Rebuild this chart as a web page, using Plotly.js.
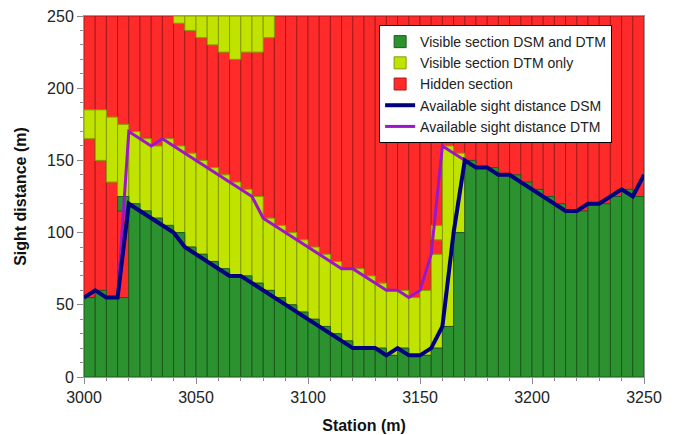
<!DOCTYPE html>
<html>
<head>
<meta charset="utf-8">
<script src="https://cdn.plot.ly/plotly-3.0.1.min.js"></script>
<style>html,body{margin:0;padding:0;background:#fff;}#chart{width:676px;height:435px;}</style>
</head>
<body>
<div id="chart"></div>
<script>
// Stations (m) where sight distances were evaluated
const station = [3000,3005,3010,3015,3020,3025,3030,3035,3040,3045,3050,3055,3060,3065,3070,3075,3080,3085,3090,3095,
                 3100,3105,3110,3115,3120,3125,3130,3135,3140,3145,3150,3155,3160,3165,3170,3175,3180,3185,3190,3195,
                 3200,3205,3210,3215,3220,3225,3230,3235,3240,3245,3250];
// Available sight distance lines (m)
const dsmDistance = [55,60,55,55,120,115,110,105,100,90,85,80,75,70,70,65,60,55,50,45,
                     40,35,30,25,20,20,20,15,20,15,15,20,35,100,150,145,145,140,140,135,
                     130,125,120,115,115,120,120,125,130,125,140];
const dtmDistance = [55,60,55,55,170,165,160,165,160,155,150,145,140,135,130,125,110,105,100,95,
                     90,85,80,75,75,70,65,60,60,55,60,85,160,155,150,145,145,140,140,135,
                     130,125,120,115,115,120,120,125,130,125,140];
// Column sections, one per 5 m section starting at each station (3000 ... 3245)
const hiddenTop = [250,250,250,250,250,250,250,250,250,250,250,250,250,250,250,250,250,250,250,250,
                   250,250,250,250,250,250,250,250,250,250,250,250,250,250,250,250,250,250,250,250,
                   250,250,250,250,250,250,250,250,250,250];
const visibleBothTop = [55,60,55,55,120,115,110,105,100,90,85,80,75,70,70,65,60,55,50,45,
                        40,35,30,25,20,20,20,15,20,15,15,20,35,100,150,145,145,140,140,135,
                        130,125,120,115,115,120,120,125,130,125];
const visibleBothExtraLow  = [null,null,null,115,null,null,null,null,null,null,null,null,null,null,null,null,null,null,null,null,
                             null,null,null,null,null,null,null,null,null,null,null,null,null,null,null,null,null,null,null,null,
                             null,null,null,null,null,null,null,null,null,null];
const visibleBothExtraHigh = [null,null,null,125,null,null,null,null,null,null,null,null,null,null,null,null,null,null,null,null,
                             null,null,null,null,null,null,null,null,null,null,null,null,null,null,null,null,null,null,null,null,
                             null,null,null,null,null,null,null,null,null,null];
const dtmOnlyLow  = [165,150,135,125,120,115,110,105,100,90,85,80,75,70,70,65,60,55,50,45,
                     40,35,30,25,20,20,20,15,20,15,15,20,35,100,null,null,null,null,null,null,
                     null,null,null,null,null,null,null,null,null,null];
const dtmOnlyHigh = [185,185,180,175,170,165,160,165,160,155,150,145,140,135,130,125,110,105,100,95,
                     90,85,80,75,75,70,65,60,60,55,60,85,160,155,null,null,null,null,null,null,
                     null,null,null,null,null,null,null,null,null,null];
const dtmOnlyExtraLow  = [null,null,null,null,null,null,null,null,245,240,235,230,225,220,225,225,235,null,null,null,
                          null,null,null,null,null,null,null,null,null,null,null,95,null,null,null,null,null,null,null,null,
                          null,null,null,null,null,null,null,null,null,null];
const dtmOnlyExtraHigh = [null,null,null,null,null,null,null,null,250,250,250,250,250,250,250,250,250,null,null,null,
                          null,null,null,null,null,null,null,null,null,null,null,105,null,null,null,null,null,null,null,null,
                          null,null,null,null,null,null,null,null,null,null];

const barX = station.slice(0, hiddenTop.length);
const GREEN = '#2b922f', GREEN_EDGE = '#1c5a1e';
const YELLOW = '#c0e400', YELLOW_EDGE = '#879c00';
const RED = '#ff2b2b', RED_EDGE = '#a81a1a';

function seg(low, high) {
  return {
    base: low.map(v => v === null ? null : v),
    y: high.map((v, i) => (v === null || low[i] === null) ? null : v - low[i])
  };
}
const zeros = barX.map(() => 0);
function barTrace(name, s, color, edge, show, rank) {
  return {
    type: 'bar', name: name, x: barX, y: s.y, base: s.base,
    width: 5, offset: 0,
    marker: {color: color, line: {color: edge, width: 1}},
    showlegend: show, legendrank: rank, hoverinfo: 'skip'
  };
}
const traces = [
  barTrace('Hidden section', seg(zeros, hiddenTop), RED, RED_EDGE, true, 3),
  barTrace('Visible section DTM only', seg(dtmOnlyLow, dtmOnlyHigh), YELLOW, YELLOW_EDGE, true, 2),
  barTrace('Visible section DTM only (extra)', seg(dtmOnlyExtraLow, dtmOnlyExtraHigh), YELLOW, YELLOW_EDGE, false, 20),
  barTrace('Visible section DSM and DTM', seg(zeros, visibleBothTop), GREEN, GREEN_EDGE, true, 1),
  barTrace('Visible section DSM and DTM (extra)', seg(visibleBothExtraLow, visibleBothExtraHigh), GREEN, GREEN_EDGE, false, 21),
  {type: 'scatter', mode: 'lines', name: 'Available sight distance DTM', x: station, y: dtmDistance,
   line: {color: '#9c16c8', width: 3}, legendrank: 5, hoverinfo: 'skip'},
  {type: 'scatter', mode: 'lines', name: 'Available sight distance DSM', x: station, y: dsmDistance,
   line: {color: '#000080', width: 4}, legendrank: 4, hoverinfo: 'skip'}
];

const axisCommon = {
  showgrid: false, zeroline: false, showline: true, linecolor: '#9a9a9a', linewidth: 1, mirror: true,
  ticks: 'outside', ticklen: 6, tickcolor: '#8a8a8a', tickwidth: 1,
  tickfont: {size: 16, color: '#222'}
};
const layout = {
  width: 676, height: 435,
  margin: {l: 84, r: 32, t: 16, b: 58},
  paper_bgcolor: '#fff', plot_bgcolor: '#fff',
  font: {family: 'Liberation Sans, Arial, sans-serif', size: 16, color: '#222'},
  barmode: 'overlay', bargap: 0,
  xaxis: Object.assign({}, axisCommon, {
    range: [3000, 3250], tick0: 3000, dtick: 50,
    minor: {dtick: 10, ticks: 'outside', ticklen: 3, tickcolor: '#8a8a8a', showgrid: false},
    title: {text: '<b>Station (m)</b>', font: {size: 16, color: '#111'}, standoff: 14}
  }),
  yaxis: Object.assign({}, axisCommon, {
    range: [0, 250], tick0: 0, dtick: 50,
    minor: {dtick: 10, ticks: 'outside', ticklen: 3, tickcolor: '#8a8a8a', showgrid: false},
    title: {text: '<b>Sight distance (m)</b>', font: {size: 16, color: '#111'}, standoff: 16}
  }),
  yaxis2: {overlaying: 'y', side: 'right', range: [0, 250], tick0: 0, dtick: 50,
           ticks: 'inside', ticklen: 5, tickcolor: '#8a8a8a', showticklabels: false,
           showgrid: false, zeroline: false, showline: false},
  legend: {x: 0.527, y: 0.975, xanchor: 'left', yanchor: 'top',
           bgcolor: '#fff', bordercolor: '#000', borderwidth: 1,
           font: {size: 14, color: '#222'}, tracegroupgap: 0}
};
Plotly.newPlot('chart', traces, layout, {staticPlot: true, displayModeBar: false});
</script>
</body>
</html>
